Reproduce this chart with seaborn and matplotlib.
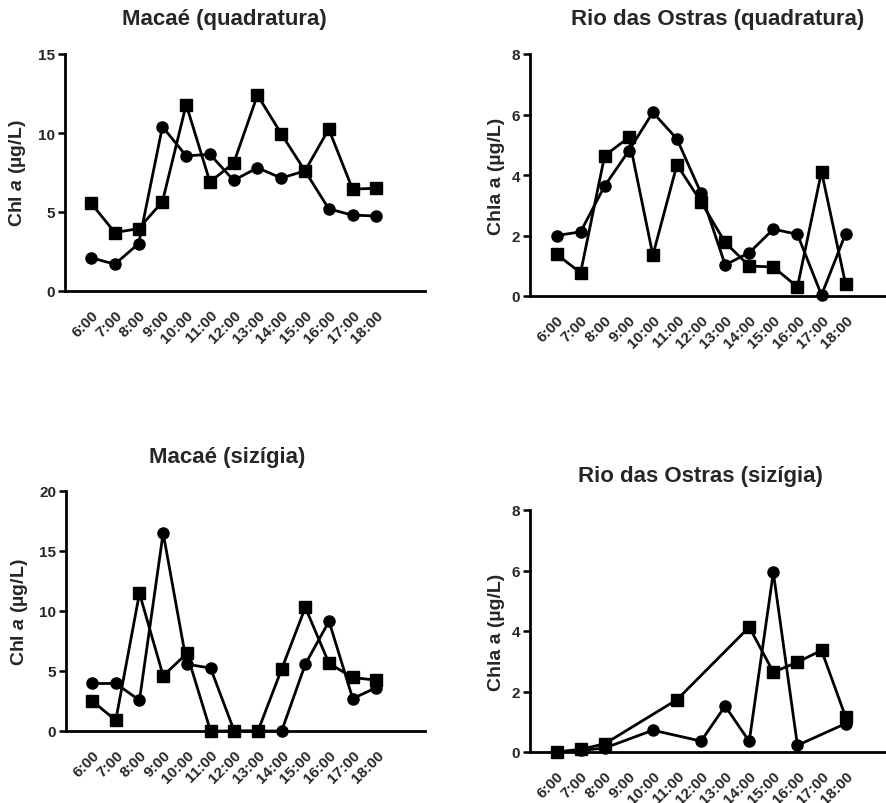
import numpy as np
import pandas as pd
import seaborn as sns
import matplotlib.pyplot as plt

# Sampling hours
hours = ["6:00", "7:00", "8:00", "9:00", "10:00", "11:00", "12:00",
         "13:00", "14:00", "15:00", "16:00", "17:00", "18:00"]

# Macaé, neap tide (quadratura)
macae_quad_circles = [2.1, 1.7, 3.0, 10.4, 8.55, 8.65, 7.0, 7.8, 7.15, 7.6, 5.2, 4.8, 4.75]
macae_quad_squares = [5.55, 3.7, 3.95, 5.65, 11.8, 6.9, 8.1, 12.4, 9.95, 7.6, 10.25, 6.45, 6.5]

# Rio das Ostras, neap tide (quadratura)
rio_quad_circles = [2.0, 2.12, 3.64, 4.8, 6.07, 5.19, 3.4, 1.03, 1.43, 2.21, 2.04, 0.03, 2.06]
rio_quad_squares = [1.38, 0.77, 4.64, 5.24, 1.35, 4.34, 3.11, 1.77, 0.99, 0.96, 0.3, 4.11, 0.39]

# Macaé, spring tide (sizígia)
macae_siz_circles = [3.96, 3.96, 2.56, 16.5, 5.57, 5.24, 0.0, 0.0, 0.0, 5.57, 9.14, 2.7, 3.62]
macae_siz_squares = [2.51, 0.89, 11.48, 4.6, 6.46, 0.0, 0.0, 0.0, 5.15, 10.3, 5.63, 4.46, 4.23]

# Rio das Ostras, spring tide (sizígia); NaN = no sample
rio_siz_circles = [0.0, 0.05, 0.13, np.nan, 0.72, np.nan, 0.36, 1.52, 0.35, 5.94, 0.22, np.nan, 0.94]
rio_siz_squares = [0.0, 0.09, 0.27, np.nan, np.nan, 1.73, np.nan, np.nan, 4.13, 2.64, 2.97, 3.36, 1.16]

titles = ["Macaé (quadratura)", "Rio das Ostras (quadratura)",
          "Macaé (sizígia)", "Rio das Ostras (sizígia)"]
ylabels = ["Chl $\\mathit{a}$ (µg/L)", "Chla a (µg/L)",
           "Chl $\\mathit{a}$ (µg/L)", "Chla a (µg/L)"]
yticks = [[0, 5, 10, 15], [0, 2, 4, 6, 8], [0, 5, 10, 15, 20], [0, 2, 4, 6, 8]]
series = [(macae_quad_circles, macae_quad_squares),
          (rio_quad_circles, rio_quad_squares),
          (macae_siz_circles, macae_siz_squares),
          (rio_siz_circles, rio_siz_squares)]

sns.set_theme(style="ticks")
plt.rcParams['font.family'] = ['Liberation Sans', 'DejaVu Sans']
plt.rcParams['font.weight'] = 'bold'
plt.rcParams['mathtext.fontset'] = 'custom'
plt.rcParams['mathtext.it'] = 'Liberation Sans:italic:bold'
plt.rcParams['mathtext.rm'] = 'Liberation Sans:bold'

W, H = 887, 804
fig = plt.figure(figsize=(W / 100, H / 100), dpi=100)

# axes boxes in pixels: left, right, top, bottom
boxes = [(65, 425, 55, 292), (530, 895, 55, 297),
         (66, 425, 492, 732), (530, 895, 511, 753)]
label_x = [28, 505, 30, 505]
# title centre x and baseline y, in pixels
title_pos = [(224, 25), (718, 25), (227, 463), (700, 482)]

for i, (l, r, t, b) in enumerate(boxes):
    ax = fig.add_axes([l / W, 1 - b / H, (r - l) / W, (b - t) / H])
    circ, sq = series[i]
    df = pd.DataFrame({
        "pos": list(range(len(hours))) * 2,
        "value": list(circ) + list(sq),
        "series": ["circles"] * len(hours) + ["squares"] * len(hours),
    }).dropna()
    sns.lineplot(data=df, x="pos", y="value", style="series",
                 style_order=["circles", "squares"],
                 markers={"circles": "o", "squares": "s"}, dashes=False,
                 color="black", linewidth=2, markersize=8,
                 markeredgecolor="black", markeredgewidth=1,
                 legend=False, ax=ax, clip_on=False, zorder=3)
    ax.set_xlim(-1.1, 14.05)
    ax.set_ylim(yticks[i][0], yticks[i][-1])
    ax.set_yticks(yticks[i])
    ax.set_xticks(range(len(hours)))
    ax.set_xticklabels(hours, rotation=45, ha="right", va="top",
                       rotation_mode="anchor", fontsize=11, fontweight="bold")
    ax.tick_params(axis="x", length=0, pad=12)
    ax.tick_params(axis="y", length=5, width=1.8, pad=2, labelsize=11,
                   direction="out", color="black")
    for lab in ax.get_yticklabels():
        lab.set_fontweight("bold")
    sns.despine(ax=ax)
    for s in ("left", "bottom"):
        ax.spines[s].set_linewidth(2)
        ax.spines[s].set_color("black")
    ax.set_xlabel("")
    ax.set_ylabel(ylabels[i], fontsize=14, fontweight="bold")
    ax.yaxis.set_label_coords((label_x[i] - l) / (r - l), 0.5)
    tx, ty = title_pos[i]
    fig.text(tx / W, 1 - ty / H, titles[i], ha="center", va="baseline",
             fontsize=16, fontweight="bold")

fig.savefig("out.png", dpi=100)
